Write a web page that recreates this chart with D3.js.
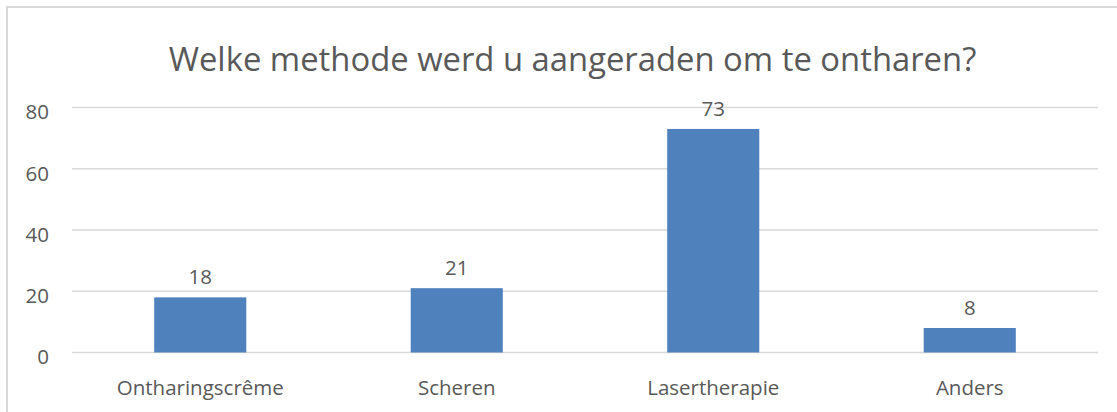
<!DOCTYPE html>
<html>
<head>
<meta charset="utf-8">
<script src="https://cdn.jsdelivr.net/npm/d3@7"></script>
<style>
  html, body { margin: 0; padding: 0; background: #fff; }
  text { font-family: "Open Sans", "Noto Sans", sans-serif; fill: #595959; }
</style>
</head>
<body>
<svg id="chart"></svg>
<script>
var categories = ['Ontharingscrême', 'Scheren', 'Lasertherapie', 'Anders'];
var values = [18, 21, 73, 8];
var yTicks = [0, 20, 40, 60, 80];
var title = 'Welke methode werd u aangeraden om te ontharen?';

var WIDTH = 1117
var HEIGHT = 412

var svg = d3.select('#chart')
    .attr('width', WIDTH)
    .attr('height', HEIGHT)

// outer chart frame (runs off the right and bottom edge)
svg.append('rect')
  .attr('x', 7)
  .attr('y', 7)
  .attr('width', WIDTH + 20)
  .attr('height', HEIGHT + 20)
  .attr('fill', '#fff')
  .attr('stroke', '#d9d9d9')
  .attr('stroke-width', 2)

var x = d3.scaleBand()
  .domain(categories)
  .range([72, 1098])
  .paddingInner(0.641)
  .paddingOuter(0.3205)

var y = d3.scaleLinear()
  .domain([0, 80])
  .range([352.5, 107.5])

// gridlines
svg.selectAll('line.grid')
  .data(yTicks)
  .enter().append('line')
  .attr('class', 'grid')
  .attr('x1', 72)
  .attr('x2', 1098)
  .attr('y1', function (d) { return y(d) })
  .attr('y2', function (d) { return y(d) })
  .attr('stroke', '#d9d9d9')
  .attr('stroke-width', 1.5)

// y axis labels
var yAxis = d3.axisLeft(y).tickValues(yTicks).tickSize(0).tickPadding(23)
var gy = svg.append('g').attr('transform', 'translate(72,0)').call(yAxis)
gy.select('.domain').remove()
gy.selectAll('text')
  .attr('font-size', '20.5px')
  .attr('font-family', '"Open Sans", sans-serif')
  .attr('fill', '#595959')
  .attr('dy', '0.55em')

// bars
svg.selectAll('rect.bar')
  .data(values)
  .enter().append('rect')
  .attr('class', 'bar')
  .attr('x', function (d, i) { return x(categories[i]) })
  .attr('width', x.bandwidth())
  .attr('y', function (d) { return y(d) })
  .attr('height', function (d) { return y(0) - y(d) })
  .attr('fill', '#4f81bd')

// value labels
svg.selectAll('text.val')
  .data(values)
  .enter().append('text')
  .attr('class', 'val')
  .attr('x', function (d, i) { return x(categories[i]) + x.bandwidth() / 2 })
  .attr('y', function (d) { return y(d) - 13 })
  .attr('text-anchor', 'middle')
  .attr('font-size', '20.5px')
  .text(function (d) { return d })

// category labels
var xAxis = d3.axisBottom(x).tickSize(0).tickPadding(0)
var gx = svg.append('g').attr('transform', 'translate(0,395)').call(xAxis)
gx.select('.domain').remove()
gx.selectAll('text')
  .attr('font-size', '20.5px')
  .attr('font-family', '"Open Sans", sans-serif')
  .attr('fill', '#595959')
  .attr('dy', 0)

// title
svg.append('text')
  .attr('x', 572.5)
  .attr('y', 71)
  .attr('text-anchor', 'middle')
  .attr('font-size', '32.8px')
  .text(title)
</script>
</body>
</html>
